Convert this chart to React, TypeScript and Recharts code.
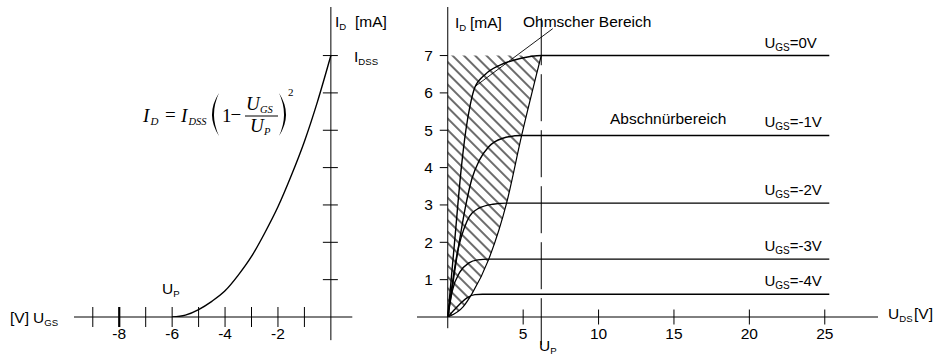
import { Area, ComposedChart, Line, ReferenceLine, Scatter, XAxis, YAxis } from 'recharts'

const SANS = '"Liberation Sans", Arial, sans-serif'
const SERIF = '"Liberation Serif", "Times New Roman", serif'

// Übertragungskennlinie: I_D über U_GS
const transferCurve = [
  { x: -6, y: 0 },
  { x: -5.5, y: 0.05 },
  { x: -5, y: 0.2 },
  { x: -4.5, y: 0.42 },
  { x: -4, y: 0.7 },
  { x: -3.5, y: 1.12 },
  { x: -3, y: 1.62 },
  { x: -2.5, y: 2.25 },
  { x: -2, y: 2.95 },
  { x: -1.5, y: 3.78 },
  { x: -1, y: 4.7 },
  { x: -0.5, y: 5.78 },
  { x: 0, y: 7 },
]
const ugsTicks = [-9, -8, -7, -6, -5, -4, -3, -2, -1]
const ugsTickLabels = [-8, -6, -4, -2]
const idTicks = [1, 2, 3, 4, 5, 6, 7]

// Ausgangskennlinien: I_D über U_DS für verschiedene U_GS
const ugsSteps = ['0V', '-1V', '-2V', '-3V', '-4V']
const saturation = [7, 4.86, 3.05, 1.55, 0.61]
const curve0V = [
  { x: 0, y: 0 }, { x: 0.45, y: 2 }, { x: 0.9, y: 4 }, { x: 1.2, y: 5 }, { x: 1.5, y: 5.7 },
  { x: 1.8, y: 6.15 }, { x: 2.5, y: 6.5 }, { x: 3.5, y: 6.75 }, { x: 4.8, y: 6.92 }, { x: 6.2, y: 7 },
  { x: 25.3, y: 7 },
]
const curve1V = [
  { x: 0, y: 0 }, { x: 0.6, y: 1.6 }, { x: 1.2, y: 3.0 }, { x: 1.6, y: 3.7 }, { x: 2.1, y: 4.2 },
  { x: 2.7, y: 4.55 }, { x: 3.6, y: 4.78 }, { x: 4.9, y: 4.86 }, { x: 25.3, y: 4.86 },
]
const curve2V = [
  { x: 0, y: 0 }, { x: 0.6, y: 1.65 }, { x: 1.26, y: 2.55 }, { x: 2.0, y: 2.9 }, { x: 3.0, y: 3.02 },
  { x: 3.9, y: 3.05 }, { x: 25.3, y: 3.05 },
]
const curve3V = [
  { x: 0, y: 0 }, { x: 0.3, y: 0.7 }, { x: 0.8, y: 1.2 }, { x: 1.4, y: 1.45 }, { x: 2.0, y: 1.53 },
  { x: 2.7, y: 1.55 }, { x: 25.3, y: 1.55 },
]
const curve4V = [
  { x: 0, y: 0 }, { x: 0.45, y: 0.2 }, { x: 0.85, y: 0.37 }, { x: 1.3, y: 0.52 }, { x: 1.8, y: 0.6 },
  { x: 2.3, y: 0.61 }, { x: 25.3, y: 0.61 },
]
const outputCurves = [curve0V, curve1V, curve2V, curve3V, curve4V]
// Grenze zwischen ohmschem Bereich und Abschnürbereich
const pinchOff = [
  { x: 0, y: 0 }, { x: 1.03, y: 0.28 }, { x: 1.6, y: 0.62 }, { x: 2.7, y: 1.53 },
  { x: 3.9, y: 3.05 }, { x: 4.9, y: 4.86 }, { x: 6.2, y: 7 },
]
const udsTicks = [5, 10, 15, 20, 25]
const upVoltage = 6.2
const idss = 7

const ohmBand = pinchOff.map((p) => ({ x: p.x, band: [p.y, idss] }))
const yTickPoints = idTicks.map((v) => ({ x: 0, y: v }))
const curveLabels = ugsSteps.map((s, i) => ({ x: 21, y: saturation[i], label: s }))

function CrossTick(props: any) {
  const { x, y, payload, half, labels, bold } = props
  const v = payload.value
  return (
    <g>
      <line x1={x} x2={x} y1={y - half} y2={y + half} stroke="#000" strokeWidth={bold === v ? 2.2 : 1} />
      {labels.includes(v) && (
        <text x={x} y={y + 22} textAnchor="middle" fontSize={15.5} fontFamily={SANS} fill="#000">
          {v}
        </text>
      )}
    </g>
  )
}

function LeftYTick(p: any) {
  return <line x1={p.cx - 8} x2={p.cx + 7} y1={p.cy} y2={p.cy} stroke="#000" strokeWidth={1} />
}

function RightYTick(p: any) {
  return (
    <g>
      <line x1={p.cx - 8} x2={p.cx} y1={p.cy} y2={p.cy} stroke="#000" strokeWidth={1} />
      <text x={p.cx - 15} y={p.cy + 5.5} textAnchor="end" fontSize={15.5} fontFamily={SANS} fill="#000">
        {p.payload.y}
      </text>
    </g>
  )
}

function CurveLabel(p: any) {
  return (
    <text x={p.cx} y={p.cy - 8} fontSize={15} fontFamily={SANS} fill="#000">
      U<tspan fontSize={10} dy={3}>GS</tspan>
      <tspan dy={-3}>={p.payload.label}</tspan>
    </text>
  )
}

function Sub({ x, y, main, sub, size = 15.5, dy = 3 }: { x: number; y: number; main: string; sub: string; size?: number; dy?: number }) {
  return (
    <text x={x} y={y} fontSize={size} fontFamily={SANS} fill="#000">
      {main}
      <tspan fontSize={size * 0.62} dy={dy}>{sub}</tspan>
    </text>
  )
}

function Annotations() {
  return (
    <svg width={935} height={356} style={{ position: 'absolute', left: 0, top: 0, pointerEvents: 'none' }}>
      {/* left chart */}
      <Sub x={335} y={27} main="I" sub="D" />
      <text x={355} y={27} fontSize={15.5} fontFamily={SANS}>[mA]</text>
      <Sub x={354} y={62} main="I" sub="DSS" />
      <Sub x={162} y={294} main="U" sub="P" />
      <text x={10} y={323} fontSize={15.5} fontFamily={SANS}>[V]</text>
      <Sub x={33} y={323} main="U" sub="GS" />

      {/* formula */}
      <g fontFamily={SERIF} fill="#000">
        <text x={143} y={122} fontSize={19} fontStyle="italic">I</text>
        <text x={150.5} y={125} fontSize={11} fontStyle="italic">D</text>
        <text x={165} y={121} fontSize={19}>=</text>
        <text x={181} y={122} fontSize={19} fontStyle="italic">I</text>
        <text x={188.5} y={125} fontSize={10.5} fontStyle="italic">DSS</text>
        <path d="M219,93 Q205,114.5 219,136 Q209,114.5 219,93 Z" />
        <text x={222} y={122} fontSize={19}>1</text>
        <text x={230.5} y={121} fontSize={19}>−</text>
        <text x={246} y={110} fontSize={19} fontStyle="italic">U</text>
        <text x={260} y={113} fontSize={10.5} fontStyle="italic">GS</text>
        <line x1={245} x2={278} y1={116} y2={116} stroke="#000" strokeWidth={1} />
        <text x={250} y={132} fontSize={19} fontStyle="italic">U</text>
        <text x={264} y={135} fontSize={10.5} fontStyle="italic">P</text>
        <path d="M279,93 Q293,114.5 279,136 Q289,114.5 279,93 Z" />
        <text x={288} y={96} fontSize={11}>2</text>
      </g>

      {/* right chart */}
      <Sub x={455} y={28} main="I" sub="D" />
      <text x={470} y={28} fontSize={15.5} fontFamily={SANS}>[mA]</text>
      <text x={523} y={27} fontSize={15.5} fontFamily={SANS}>Ohmscher Bereich</text>
      <text x={610} y={124} fontSize={15.5} fontFamily={SANS}>Abschnürbereich</text>
      <Sub x={888} y={319} main="U" sub="DS" />
      <text x={914} y={319} fontSize={15.5} fontFamily={SANS}>[V]</text>
      <Sub x={539} y={351} main="U" sub="P" dy={2.5} />
    </svg>
  )
}

function TransferChart() {
  return (
    <ComposedChart width={420} height={356} margin={{ top: 7, right: 67.7, bottom: 9, left: 74 }}>
      <XAxis
        type="number"
        dataKey="x"
        domain={[-9.71, 0.81]}
        allowDataOverflow
        ticks={ugsTicks}
        interval={0}
        height={30}
        tickSize={0}
        tickMargin={0}
        axisLine={{ stroke: '#000', strokeWidth: 1 }}
        tick={(p: any) => <CrossTick {...p} half={10} labels={ugsTickLabels} bold={-8} />}
      />
      <YAxis hide type="number" dataKey="y" domain={[0, 8.3]} allowDataOverflow />
      <ReferenceLine segment={[{ x: 0, y: -0.62 }, { x: 0, y: 8.3 }]} stroke="#000" strokeWidth={1} ifOverflow="visible" />
      <Scatter data={yTickPoints} dataKey="y" shape={LeftYTick} isAnimationActive={false} />
      <Line data={transferCurve} dataKey="y" type="monotone" stroke="#000" strokeWidth={1.4} dot={false} isAnimationActive={false} />
    </ComposedChart>
  )
}

function OutputChart() {
  return (
    <ComposedChart width={555} height={356} data={ohmBand} margin={{ top: 7, right: 57, bottom: 9, left: 37 }}>
      <defs>
        <pattern id="hatch" patternUnits="userSpaceOnUse" width="8" height="8" patternTransform="rotate(45)">
          <line x1="0" y1="4" x2="8" y2="4" stroke="#000" strokeWidth="1.15" />
        </pattern>
      </defs>
      <XAxis
        type="number"
        dataKey="x"
        domain={[-2.04, 28.53]}
        allowDataOverflow
        ticks={udsTicks}
        interval={0}
        height={30}
        tickSize={0}
        tickMargin={0}
        axisLine={{ stroke: '#000', strokeWidth: 1 }}
        tick={(p: any) => <CrossTick {...p} half={7.5} labels={udsTicks} bold={null} />}
      />
      <YAxis hide type="number" dataKey="y" domain={[0, 8.3]} allowDataOverflow />
      <Area dataKey="band" type="monotone" stroke="none" fill="url(#hatch)" fillOpacity={1} isAnimationActive={false} />
      <ReferenceLine segment={[{ x: 0, y: -0.3 }, { x: 0, y: 8.3 }]} stroke="#000" strokeWidth={1} ifOverflow="visible" />
      <ReferenceLine
        segment={[{ x: upVoltage, y: 8.0 }, { x: upVoltage, y: -0.75 }]}
        stroke="#000"
        strokeWidth={1}
        strokeDasharray="47 9"
        ifOverflow="visible"
      />
      <ReferenceLine segment={[{ x: 1.8, y: 6.17 }, { x: 6.96, y: 7.72 }]} stroke="#000" strokeWidth={0.9} ifOverflow="visible" />
      <Line data={pinchOff} dataKey="y" type="monotone" stroke="#000" strokeWidth={1.2} dot={false} isAnimationActive={false} />
      {outputCurves.map((c, i) => (
        <Line key={ugsSteps[i]} data={c} dataKey="y" type="monotone" stroke="#000" strokeWidth={1.4} dot={false} isAnimationActive={false} />
      ))}
      <Scatter data={yTickPoints} dataKey="y" shape={RightYTick} isAnimationActive={false} />
      <Scatter data={curveLabels} dataKey="y" shape={CurveLabel} isAnimationActive={false} />
    </ComposedChart>
  )
}

export default function App() {
  return (
    <div style={{ position: 'absolute', left: 0, top: 0, width: 935, height: 356, background: '#fff' }}>
      <div style={{ position: 'absolute', left: 0, top: 0 }}>
        <TransferChart />
      </div>
      <div style={{ position: 'absolute', left: 380, top: 0 }}>
        <OutputChart />
      </div>
      <Annotations />
    </div>
  )
}
